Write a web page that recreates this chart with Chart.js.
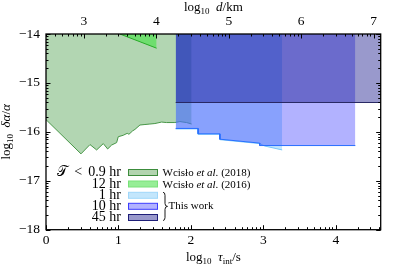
<!DOCTYPE html>
<html>
<head>
<meta charset="utf-8">
<script src="https://cdn.jsdelivr.net/npm/chart.js@4.4.0/dist/chart.umd.min.js"></script>
<style>
  html, body { margin: 0; padding: 0; background: #fff; }
</style>
</head>
<body>
<canvas id="myChart" width="399" height="266"></canvas>
<script>
// log10 tau_int (s) and log10 delta-alpha/alpha limits
const tauWcislo2018 = [0, 0.483, 0.607, 0.699, 0.791, 0.851, 0.906, 0.975, 0.997, 1.066, 1.121, 1.145, 1.196, 1.228, 1.297, 1.366, 1.434, 1.503, 1.596, 1.665, 1.779, 1.848, 1.941, 2.01];
const limWcislo2018 = [-15.75, -16.45, -16.26, -16.37, -16.24, -16.35, -16.27, -16.22, -16.10, -16.07, -16.03, -16.05, -15.98, -15.95, -15.86, -15.85, -15.84, -15.83, -15.80, -15.81, -15.81, -15.79, -15.81, -15.84];
const tauWcislo2016 = [1.02, 1.527];
const limWcislo2016 = [-14.0, -14.29];
const tau1hr = [1.79, 2.10, 2.10, 2.40, 2.40, 2.95, 3.02, 3.26];
const lim1hr = [-15.94, -15.94, -16.05, -16.05, -16.16, -16.24, -16.29, -16.37];
const tau10hr = [1.79, 2.10, 2.10, 2.40, 2.40, 2.95, 2.95, 4.27];
const lim10hr = [-15.93, -15.93, -16.04, -16.04, -16.15, -16.23, -16.28, -16.28];
const tau45hr = [1.79, 4.62];
const lim45hr = [-15.40, -15.40];

// axes
const tauRange = [0, 4.62];
const limRange = [-18, -14];
const tauTicks = [0, 1, 2, 3, 4];
const distTicks = [3, 4, 5, 6, 7];
const limTicks = [-18, -17, -16, -15, -14];
const logVelocity = Math.log10(300); // d = v * tau, v = 300 km/s

const serif = '"Liberation Serif", "DejaVu Serif", serif';

function pts(xs, ys) {
  return xs.map((x, i) => ({ x: x, y: ys[i] }));
}
function minus(v) {
  return v < 0 ? '\u2212' + Math.abs(v) : String(v);
}

// draw a run of text pieces (sub-scripts, italics) starting at x
function richText(ctx, parts, x, y, align) {
  let total = 0;
  parts.forEach(p => { ctx.font = p.f; total += ctx.measureText(p.t).width; });
  let cx = align === 'center' ? x - total / 2 : (align === 'right' ? x - total : x);
  ctx.textAlign = 'left';
  ctx.textBaseline = 'alphabetic';
  parts.forEach(p => {
    ctx.font = p.f;
    ctx.fillText(p.t, cx, y + (p.dy || 0));
    cx += ctx.measureText(p.t).width;
  });
}

const R = '13px ' + serif, I = 'italic 13px ' + serif, S = '9px ' + serif;

const frame = {
  id: 'frame',
  afterDraw(chart) {
    const ctx = chart.ctx, a = chart.chartArea;
    const sx = chart.scales.x, sy = chart.scales.y, st = chart.scales.x2;
    const minor = [2, 3, 4, 5, 6, 7, 8, 9].map(m => Math.log10(m));
    ctx.save();
    ctx.strokeStyle = '#000';
    ctx.lineWidth = 1;
    function marks(scale, horiz) {
      const out = [];
      for (let k = Math.floor(scale.min) - 1; k <= Math.ceil(scale.max); k++) {
        out.push([k, 4.5]);
        minor.forEach(m => out.push([k + m, 2.5]));
      }
      out.forEach(([v, len]) => {
        if (v < scale.min - 1e-9 || v > scale.max + 1e-9) return;
        const p = Math.round(scale.getPixelForValue(v)) + 0.5;
        ctx.beginPath();
        if (horiz === 'bottom') { ctx.moveTo(p, a.bottom); ctx.lineTo(p, a.bottom - len); }
        else if (horiz === 'top') { ctx.moveTo(p, a.top); ctx.lineTo(p, a.top + len); }
        else {
          ctx.moveTo(a.left, p); ctx.lineTo(a.left + len, p);
          ctx.moveTo(a.right, p); ctx.lineTo(a.right - len, p);
        }
        ctx.stroke();
      });
    }
    marks(sx, 'bottom');
    marks(st, 'top');
    marks(sy, 'side');
    ctx.lineWidth = 1.3;
    ctx.strokeRect(a.left, a.top, a.right - a.left, a.bottom - a.top);

    // axis titles
    ctx.fillStyle = '#000';
    const cx = (a.left + a.right) / 2;
    richText(ctx, [{ t: 'log', f: R }, { t: '10', f: S, dy: 3 }, { t: '  ', f: R }, { t: '\u03c4', f: I }, { t: 'int', f: S, dy: 3 }, { t: '/s', f: R }], cx, 261, 'center');
    richText(ctx, [{ t: 'log', f: R }, { t: '10', f: S, dy: 3 }, { t: '  ', f: R }, { t: 'd', f: I }, { t: '/km', f: R }], cx, 11, 'center');
    ctx.save();
    ctx.translate(10, (a.top + a.bottom) / 2);
    ctx.rotate(-Math.PI / 2);
    richText(ctx, [{ t: 'log', f: R }, { t: '10', f: S, dy: 3 }, { t: '  ', f: R }, { t: '\u03b4\u03b1', f: I }, { t: '/', f: R }, { t: '\u03b1', f: I }], 0, 0, 'center');
    ctx.restore();
    ctx.restore();
  }
};

// legend drawn by hand to follow the figure's layout
const legendRows = [
  { label: '\ud835\udcaf \u2009<\u2009 0.9 hr', fill: 'rgb(179,212,176)', edge: 'rgb(60,140,60)' },
  { label: '12 hr', fill: 'rgb(150,238,150)', edge: 'rgb(120,225,120)' },
  { label: '1 hr', fill: 'rgb(195,230,252)', edge: 'rgb(160,215,250)' },
  { label: '10 hr', fill: 'rgb(178,178,255)', edge: 'rgb(60,60,255)' },
  { label: '45 hr', fill: 'rgb(153,153,204)', edge: 'rgb(30,30,120)' }
];
const legend = {
  id: 'customLegend',
  afterDraw(chart) {
    const ctx = chart.ctx;
    const rowY = [172.5, 184, 195.3, 206.3, 217.5];
    ctx.save();
    legendRows.forEach((r, i) => {
      const y = rowY[i];
      ctx.font = '14px ' + serif;
      ctx.fillStyle = '#000';
      ctx.textAlign = 'right';
      ctx.textBaseline = 'middle';
      ctx.fillText(r.label, 121, y);
      ctx.fillStyle = r.fill;
      ctx.fillRect(128.5, y - 3, 29, 6);
      ctx.strokeStyle = r.edge;
      ctx.lineWidth = 1;
      ctx.strokeRect(128.5, y - 3, 29, 6);
    });
    ctx.fillStyle = '#000';
    const L = '11px ' + serif, LI = 'italic 11px ' + serif;
    richText(ctx, [{ t: 'Wcis\u0142o ', f: L }, { t: 'et al.', f: LI }, { t: ' (2018)', f: L }], 162.5, rowY[0] + 3.5, 'left');
    richText(ctx, [{ t: 'Wcis\u0142o ', f: L }, { t: 'et al.', f: LI }, { t: ' (2016)', f: L }], 162.5, rowY[1] + 3.5, 'left');
    richText(ctx, [{ t: 'This work', f: L }], 168.5, rowY[3] + 3, 'left');
    // brace
    const bx = 163, top = rowY[2] - 3, bot = rowY[4] + 3, mid = (top + bot) / 2;
    ctx.strokeStyle = '#000';
    ctx.lineWidth = 0.9;
    ctx.beginPath();
    ctx.moveTo(bx, top);
    ctx.quadraticCurveTo(bx + 2, top, bx + 2, top + 3);
    ctx.lineTo(bx + 2, mid - 3);
    ctx.quadraticCurveTo(bx + 2, mid, bx + 4.5, mid);
    ctx.quadraticCurveTo(bx + 2, mid, bx + 2, mid + 3);
    ctx.lineTo(bx + 2, bot - 3);
    ctx.quadraticCurveTo(bx + 2, bot, bx, bot);
    ctx.stroke();
    ctx.restore();
  }
};

function region(label, xs, ys, fill, edge, order) {
  return {
    label: label,
    data: pts(xs, ys),
    fill: 'end',
    backgroundColor: fill,
    borderColor: edge,
    borderWidth: 1,
    pointRadius: 0,
    tension: 0,
    order: order
  };
}

const ctx = document.getElementById('myChart').getContext('2d');
const myChart = new Chart(ctx, {
  type: 'line',
  data: {
    datasets: [
      region('45 hr', tau45hr, lim45hr, 'rgba(0,0,128,0.4)', 'rgb(40,40,100)', 1),
      region('10 hr', tau10hr, lim10hr, 'rgba(0,0,255,0.3)', 'rgb(40,110,255)', 2),
      region('1 hr', tau1hr, lim1hr, 'rgba(135,206,250,0.5)', 'rgb(120,200,250)', 3),
      region('12 hr', tauWcislo2016, limWcislo2016, 'rgba(0,235,0,0.38)', 'rgb(40,170,40)', 4),
      region('< 0.9 hr', tauWcislo2018, limWcislo2018, 'rgba(0,120,0,0.3)', 'rgb(70,150,70)', 5)
    ]
  },
  options: {
    responsive: false,
    animation: false,
    devicePixelRatio: 1,
    layout: { padding: { right: 18.3 } },
    plugins: { legend: { display: false }, tooltip: { enabled: false } },
    scales: {
      x: {
        type: 'linear', position: 'bottom', min: tauRange[0], max: tauRange[1],
        grid: { display: false, drawTicks: false }, border: { display: false },
        ticks: { color: '#000', font: { family: serif, size: 13.5 }, padding: 3, callback: v => minus(v) },
        afterBuildTicks: s => { s.ticks = tauTicks.map(v => ({ value: v })); },
        afterFit: s => { s.height = 36.3; }
      },
      x2: {
        type: 'linear', position: 'top', min: tauRange[0] + logVelocity, max: tauRange[1] + logVelocity,
        grid: { display: false, drawTicks: false }, border: { display: false },
        ticks: { color: '#000', font: { family: serif, size: 13.5 }, padding: 4, callback: v => minus(v) },
        afterBuildTicks: s => { s.ticks = distTicks.map(v => ({ value: v })); },
        afterFit: s => { s.height = 34; }
      },
      y: {
        type: 'linear', min: limRange[0], max: limRange[1],
        grid: { display: false, drawTicks: false }, border: { display: false },
        ticks: { color: '#000', font: { family: serif, size: 13.5 }, padding: 6, callback: v => minus(v) },
        afterBuildTicks: s => { s.ticks = limTicks.map(v => ({ value: v })); },
        afterFit: s => { s.width = 46; }
      }
    }
  },
  plugins: [frame, legend]
});
</script>
</body>
</html>
